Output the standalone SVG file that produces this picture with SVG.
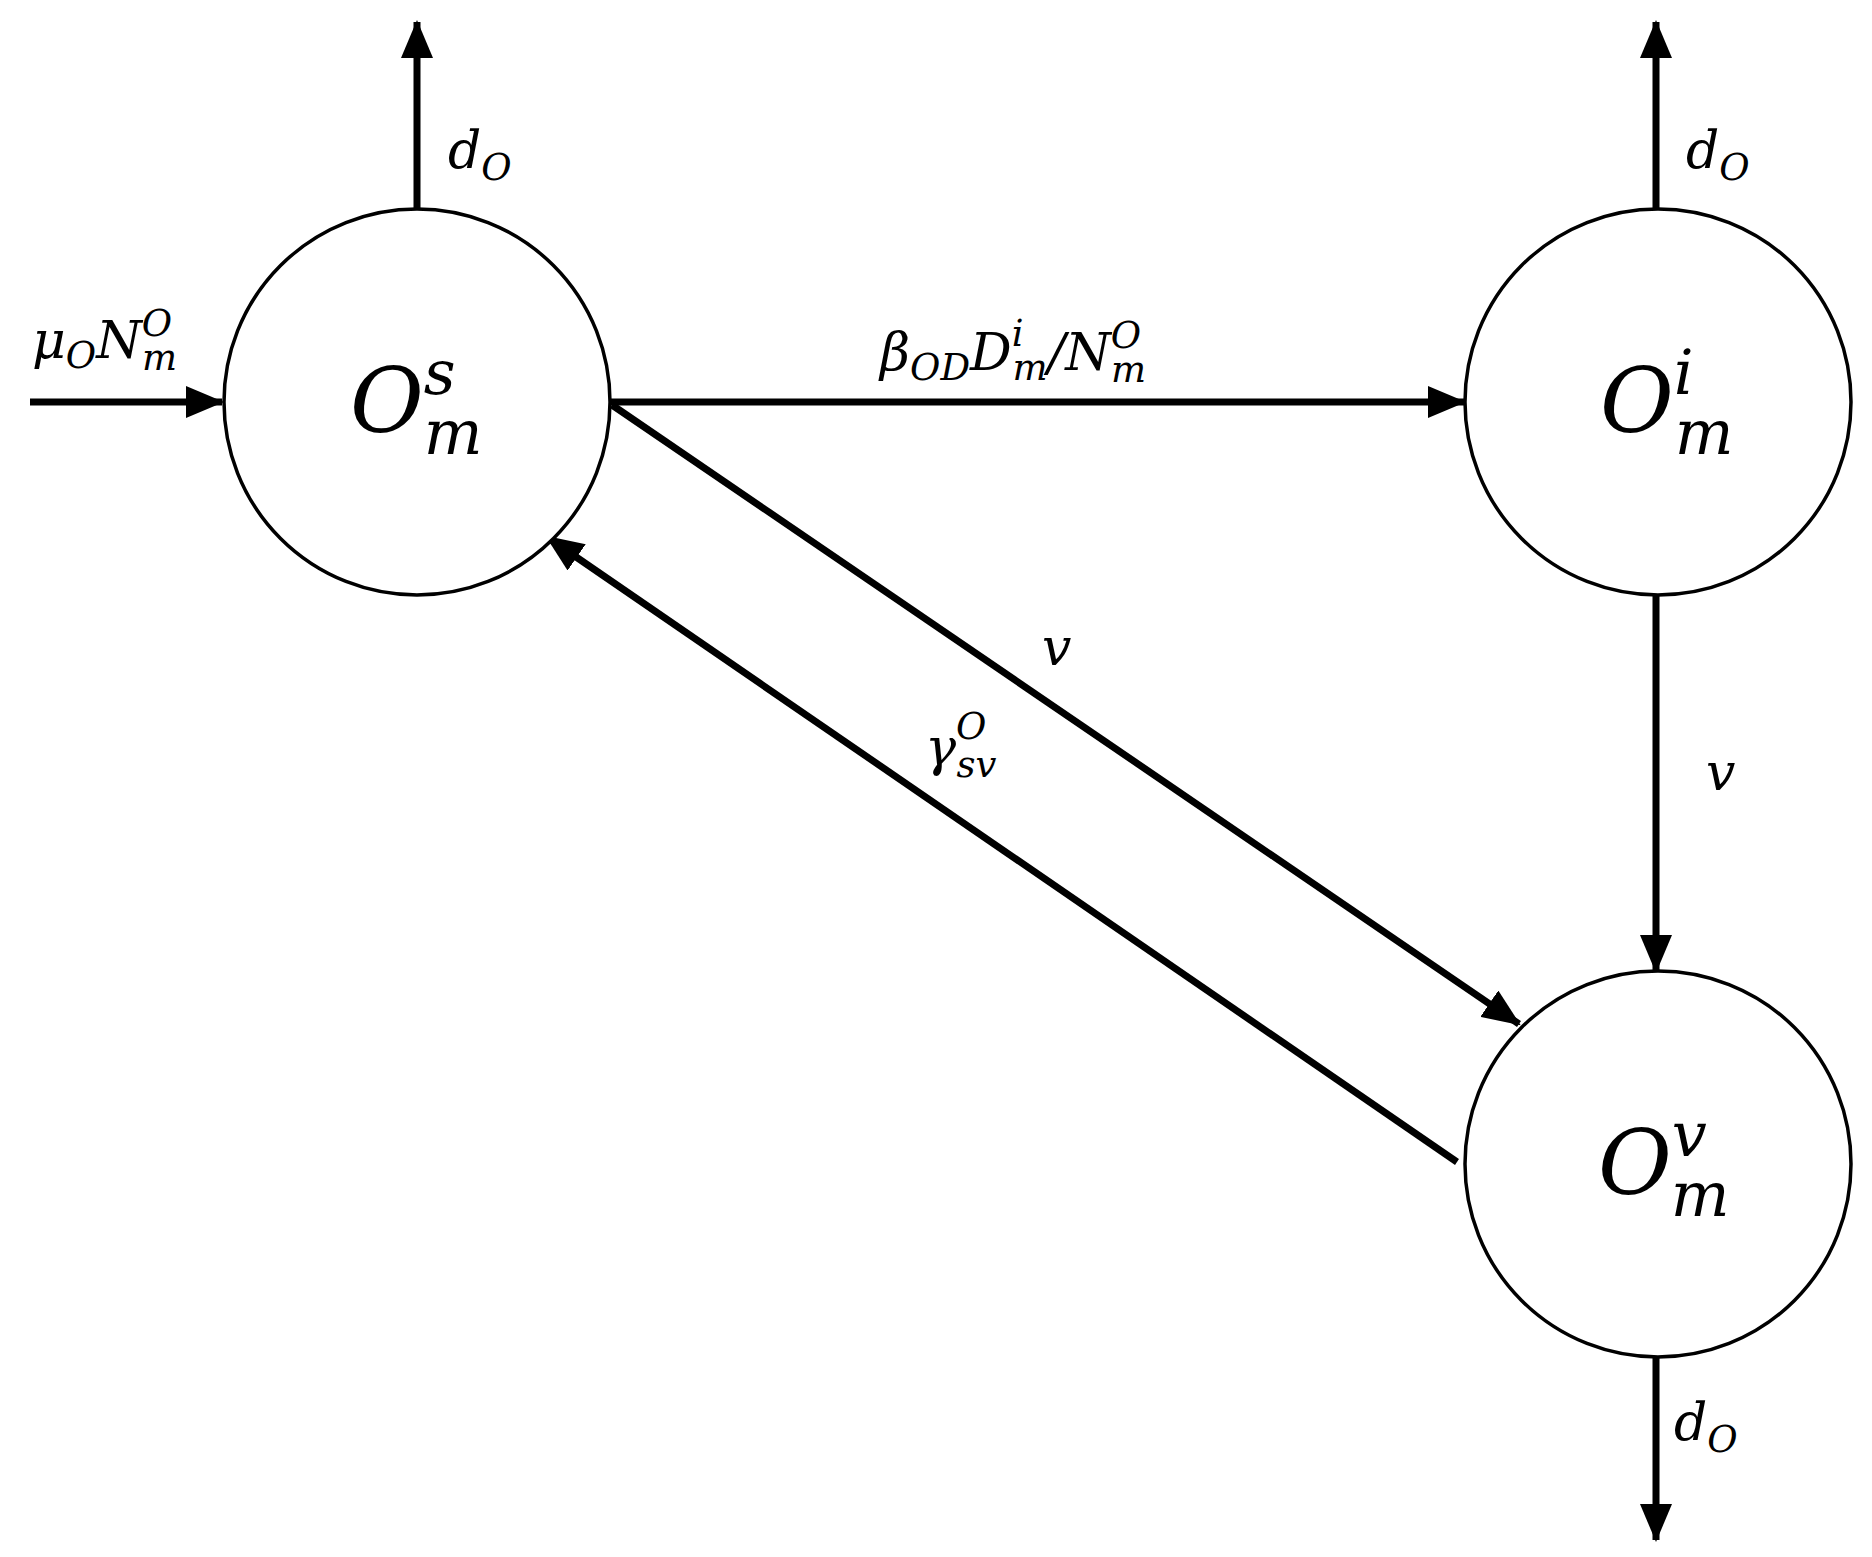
<svg xmlns="http://www.w3.org/2000/svg" width="1872" height="1557" viewBox="0 0 1872 1557">
<style>
.n{fill:#fff;stroke:#000;stroke-width:3.5}
.e{stroke:#000;stroke-width:7;fill:none}
text{font-family:"DejaVu Serif","Liberation Serif",serif;font-style:italic;fill:#000}
.big{font-size:90px}
.lab{font-size:52px}
</style>
<defs>
<marker id="a" markerUnits="userSpaceOnUse" markerWidth="40" markerHeight="32" refX="36" refY="16" orient="auto">
<path d="M0,0 L38,16 L0,32 Z" fill="#000"/>
</marker>
</defs>
<rect width="1872" height="1557" fill="#fff"/>
<g id="connectors">
<line class="e" x1="417" y1="209" x2="417" y2="22" marker-end="url(#a)"/>
<line class="e" x1="1656" y1="209" x2="1656" y2="22" marker-end="url(#a)"/>
<line class="e" x1="1656" y1="1357" x2="1656" y2="1540" marker-end="url(#a)"/>
<line class="e" x1="30" y1="402" x2="222" y2="402" marker-end="url(#a)"/>
<line class="e" x1="610" y1="402" x2="1464" y2="402" marker-end="url(#a)"/>
<line class="e" x1="1656" y1="596" x2="1656" y2="971" marker-end="url(#a)"/>
<line class="e" x1="612" y1="405" x2="1519" y2="1024" marker-end="url(#a)"/>
<line class="e" x1="1457" y1="1162" x2="547" y2="537" marker-end="url(#a)"/>
<text class="lab" x="448" y="168">d<tspan font-size="37" dy="12">O</tspan></text>
<text class="lab" x="1686" y="168">d<tspan font-size="37" dy="12">O</tspan></text>
<text class="lab" x="1674" y="1440">d<tspan font-size="37" dy="12">O</tspan></text>
<text class="lab" x="32" y="358">μ<tspan font-size="37" dy="10">O</tspan><tspan dy="-10">N</tspan><tspan font-size="37" dy="-22">O</tspan><tspan font-size="37" dx="-30" dy="34">m</tspan></text>
<text class="lab" x="880" y="370">β<tspan font-size="37" dy="10">OD</tspan><tspan dy="-10">D</tspan><tspan font-size="37" dy="-24">i</tspan><tspan font-size="37" dx="-11" dy="34">m</tspan><tspan dy="-10">/N</tspan><tspan font-size="37" dy="-22">O</tspan><tspan font-size="37" dx="-30" dy="34">m</tspan></text>
<text class="lab" x="1706" y="790">v</text>
<text class="lab" x="1042" y="665">v</text>
<text class="lab" x="925" y="765">γ<tspan font-size="37" dy="-26">O</tspan><tspan font-size="37" dx="-30" dy="38">sv</tspan></text>
</g>
<g id="Os">
<circle class="n" cx="417" cy="402" r="193"/>
<text class="big" x="350" y="432">O<tspan font-size="62" dy="-38">s</tspan><tspan font-size="62" dx="-32" dy="60">m</tspan></text>
</g>
<g id="Oi">
<circle class="n" cx="1658" cy="402" r="193"/>
<text class="big" x="1600" y="432">O<tspan font-size="62" dy="-38">i</tspan><tspan font-size="62" dx="-19" dy="60">m</tspan></text>
</g>
<g id="Ov">
<circle class="n" cx="1658" cy="1164" r="193"/>
<text class="big" x="1598" y="1194">O<tspan font-size="62" dy="-38">v</tspan><tspan font-size="62" dx="-36" dy="60">m</tspan></text>
</g>
</svg>
